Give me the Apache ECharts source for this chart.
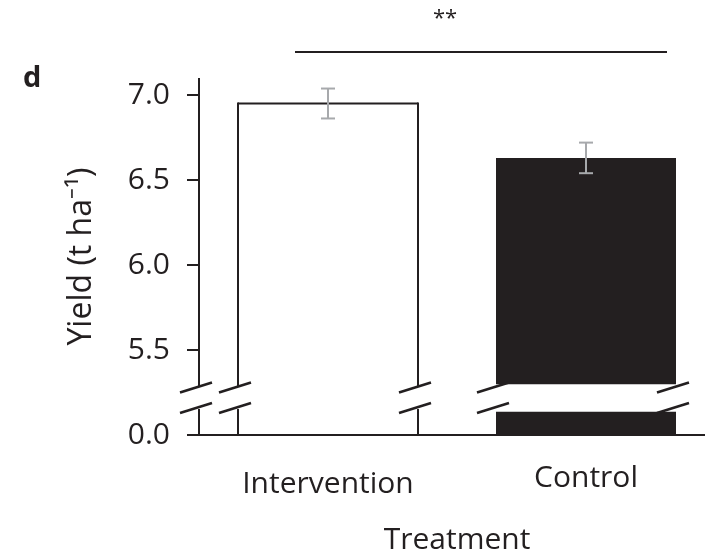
<!DOCTYPE html>
<html>
<head>
<meta charset="utf-8">
<script src="https://cdn.jsdelivr.net/npm/echarts@6/dist/echarts.min.js"></script>
<style>html,body{margin:0;padding:0;background:#fff;}#c{width:705px;height:560px;}</style>
</head>
<body>
<div id="c"></div>
<script>
// ---- data ----
const categories = ['Intervention', 'Control'];
const yieldMeans = [6.95, 6.63];
const yieldErrors = [0.088, 0.09];
const tickValues = [0.0, 5.5, 6.0, 6.5, 7.0];
const tickLabels = ['0.0', '5.5', '6.0', '6.5', '7.0'];
const filledBars = [false, true];

// ---- broken-axis transform: 0..5.5 compressed into 0..0.5, above 5.5 linear ----
const BREAK_AT = 5.5;
function disp(v) { return v >= BREAK_AT ? v - (BREAK_AT - 0.5) : v * 0.5 / BREAK_AT; }

// break geometry (display units)
const BRK_UP = 0.279, BRK_LO = 0.159, GAP_UP = 0.298, GAP_LO = 0.137;
const INK = '#231f20';

const seriesData = categories.map((c, i) => [i, disp(yieldMeans[i]), yieldErrors[i], filledBars[i] ? 1 : 0]);
const dispTicks = tickValues.map(disp);

function slash(cx, cy) {
  return { type: 'line', shape: { x1: cx - 3 - 16, y1: cy + 5, x2: cx - 3 + 16, y2: cy - 5 },
           style: { stroke: INK, lineWidth: 2.6 } };
}
function seg(x1, y1, x2, y2, w, col) {
  return { type: 'line', shape: { x1, y1, x2, y2 }, style: { stroke: col || INK, lineWidth: w || 2 } };
}

const chart = echarts.init(document.getElementById('c'), null, { renderer: 'canvas' });
chart.setOption({
  animation: false,
  backgroundColor: '#fff',
  grid: { left: 199, top: 78, width: 516, height: 357, containLabel: false, outerBoundsMode: 'none' },
  xAxis: {
    type: 'category', data: categories.map((c, i) => i === 0 ? '{a|' + c + '}' : '{b|' + c + '}'),
    boundaryGap: true,
    axisTick: { show: false },
    axisLine: { lineStyle: { color: INK, width: 2 } },
    axisLabel: {
      interval: 0, hideOverlap: false,
      margin: 28, color: INK, fontFamily: 'Open Sans', fontSize: 30,
      rich: {
        a: { fontFamily: 'Open Sans', fontSize: 30, color: INK, padding: [6, 0, 0, 0] },
        b: { fontFamily: 'Open Sans', fontSize: 30, color: INK }
      }
    },
    name: 'Treatment', nameLocation: 'middle', nameGap: 90,
    nameTextStyle: { fontFamily: 'Open Sans', fontSize: 30, color: INK }
  },
  yAxis: {
    type: 'value', min: 0, max: 2.1,
    splitLine: { show: false },
    axisLine: { show: false },
    axisTick: { show: true, customValues: dispTicks, length: 12, lineStyle: { color: INK, width: 2 } },
    axisLabel: {
      customValues: dispTicks, margin: 29, color: INK, fontFamily: 'Open Sans', fontSize: 30,
      formatter: function (v) {
        for (let i = 0; i < dispTicks.length; i++) if (Math.abs(dispTicks[i] - v) < 1e-6) return tickLabels[i];
        return '';
      }
    },
    name: 'Yield (t ha\u207B\u00B9)', nameLocation: 'middle', nameGap: 101, nameRotate: 90,
    nameTextStyle: { fontFamily: 'Open Sans', fontSize: 32, color: INK }
  },
  series: [{
    type: 'custom',
    data: seriesData,
    encode: { x: 0, y: 1 },
    renderItem: function (params, api) {
      const ci = api.value(0), top = api.value(1), err = api.value(2), filled = api.value(3) === 1;
      const base = api.coord([ci, 0]);
      const pTop = api.coord([ci, top]);
      const bw = 180;
      const x0 = base[0] - bw / 2, x1 = base[0] + bw / 2;
      const yU = api.coord([ci, BRK_UP])[1], yL = api.coord([ci, BRK_LO])[1];
      const gU = api.coord([ci, GAP_UP])[1], gL = api.coord([ci, GAP_LO])[1];
      const ch = [];
      if (filled) {
        ch.push({ type: 'rect', shape: { x: x0, y: pTop[1], width: bw, height: base[1] - pTop[1] }, style: { fill: INK } });
        ch.push({ type: 'rect', shape: { x: x0 - 1, y: gU, width: bw + 2, height: gL - gU }, style: { fill: '#fff' } });
      } else {
        ch.push(seg(x0, pTop[1], x1, pTop[1]));
        ch.push(seg(x0, pTop[1] - 1, x0, yU - 1));
        ch.push(seg(x0, yL + 1, x0, base[1]));
        ch.push(seg(x1, pTop[1] - 1, x1, yU - 1));
        ch.push(seg(x1, yL + 1, x1, base[1]));
      }
      [x0, x1].forEach(x => { ch.push(slash(x, yU)); ch.push(slash(x, yL)); });
      // error bar
      const eHi = api.coord([ci, top + err]), eLo = api.coord([ci, top - err]);
      const ec = '#a7a9ac';
      ch.push(seg(eHi[0], eHi[1], eLo[0], eLo[1], 2, ec));
      ch.push(seg(eHi[0] - 7, eHi[1], eHi[0] + 7, eHi[1], 2, ec));
      ch.push(seg(eLo[0] - 7, eLo[1], eLo[0] + 7, eLo[1], 2, ec));
      // broken y axis line (drawn once)
      if (params.dataIndex === 0) {
        const cs = params.coordSys;
        const ax = cs.x;
        ch.push(seg(ax, cs.y, ax, yU - 1));
        ch.push(seg(ax, yL + 1, ax, base[1]));
        ch.push(slash(ax, yU)); ch.push(slash(ax, yL));
      }
      return { type: 'group', children: ch };
    }
  }],
  graphic: [
    { type: 'text', left: 23, top: 64, style: { text: 'd', fontFamily: 'Open Sans', fontWeight: 'bold', fontSize: 29, fill: INK } },
    { type: 'text', x: 445, y: 19, style: { text: '**', fontFamily: 'Open Sans', fontSize: 22, fill: INK, align: 'center', verticalAlign: 'middle' } },
    { type: 'line', shape: { x1: 295, y1: 52, x2: 667, y2: 52 }, style: { stroke: INK, lineWidth: 2 } }
  ]
});
</script>
</body>
</html>
